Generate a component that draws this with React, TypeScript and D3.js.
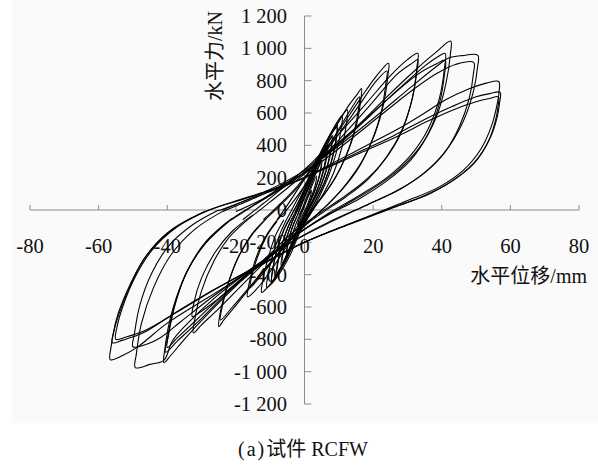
import * as d3 from 'd3';

// axis ticks
const xTicks = [-80, -60, -40, -20, 0, 20, 40, 60, 80];
const yTicks = [-1200, -1000, -800, -600, -400, -200, 0, 200, 400, 600, 800, 1000, 1200];
const yTickLabels = ['-1 200', '-1 000', '-800', '-600', '-400', '-200', '0', '200', '400', '600', '800', '1 000', '1 200'];

// hysteresis cycles, [displacement mm, force kN]
const c01 = [[-1.5, -30], [-0.5, 10], [0.8, 70], [2, 120], [1.8, 90], [0.8, 30], [-0.3, -20], [-1.2, -60], [-2, -100], [-1.8, -70], [-1, -30]];
const c02 = [[-1, -30], [0.3, 40], [2, 140], [3.5, 210], [3.2, 160], [2, 80], [0.5, 0], [-1, -70], [-2.5, -140], [-3.5, -180], [-3.2, -130], [-2, -60], [-0.8, 0]];
const c03 = [[-0.8, 0], [0.8, 90], [2.8, 200], [4.8, 290], [4.5, 230], [3.2, 130], [1.5, 40], [-0.5, -50], [-2.5, -150], [-4.2, -230], [-5, -260], [-4.6, -190], [-3.4, -100], [-2, -30]];
const c03b = [[-2, -30], [-0.6, 50], [1.4, 150], [3.5, 240], [5, 310], [4.7, 240], [3.5, 150], [1.8, 60], [-0.2, -40], [-2.2, -140], [-4, -220], [-5.2, -270], [-4.8, -200], [-3.6, -110], [-2.2, -40]];
const c04 = [[-2, -30], [-0.5, 50], [1.5, 150], [3.5, 260], [5.5, 350], [6.5, 385], [6.2, 320], [5, 210], [3.2, 100], [1.2, 10], [-1, -80], [-3, -180], [-5, -270], [-6.5, -330], [-6.2, -260], [-5, -160], [-3.5, -70], [-2, 0]];
const c04b = [[-2.2, -10], [-0.8, 70], [1.2, 170], [3.2, 270], [5.2, 350], [6.8, 400], [6.5, 330], [5.3, 220], [3.5, 110], [1.5, 20], [-0.8, -70], [-2.8, -170], [-4.8, -260], [-6.8, -345], [-6.4, -270], [-5.2, -170], [-3.7, -80], [-2.2, -10]];
const c05 = [[-2, 0], [0, 90], [2, 190], [4.5, 320], [7, 420], [8, 455], [7.7, 380], [6.5, 260], [4.5, 140], [2.5, 50], [0, -50], [-2.5, -160], [-5, -280], [-7, -360], [-8, -390], [-7.6, -310], [-6.2, -190], [-4.5, -90], [-2.8, -20]];
const c05b = [[-2.8, -20], [-1, 70], [1.5, 180], [4, 300], [6.5, 400], [8.2, 460], [7.9, 390], [6.7, 270], [4.8, 150], [2.7, 60], [0.2, -40], [-2.3, -150], [-4.8, -270], [-6.8, -350], [-8.2, -400], [-7.8, -320], [-6.4, -200], [-4.7, -100], [-3, -30]];
const c06 = [[-2.8, -20], [-1, 60], [1.5, 180], [4, 310], [7, 440], [9, 510], [9.6, 525], [9.3, 440], [8, 310], [6, 180], [3.5, 70], [1, -30], [-2, -150], [-5, -290], [-8, -400], [-9.5, -440], [-9.2, -360], [-7.8, -230], [-6, -120], [-4, -40]];
const c06b = [[-4, -40], [-2, 40], [0.8, 170], [3.5, 300], [6.5, 430], [8.8, 500], [9.4, 510], [9.1, 430], [7.8, 300], [5.8, 170], [3.3, 60], [0.8, -40], [-2.2, -160], [-5.2, -300], [-8.2, -410], [-9.6, -450], [-9.3, -370], [-7.9, -240], [-6.1, -130], [-4.2, -50]];
const c07 = [[-4, -40], [-2, 40], [1, 170], [4, 320], [7.5, 470], [10, 560], [11, 585], [10.6, 490], [9.2, 350], [7, 210], [4.5, 90], [2, -10], [-1, -120], [-4, -270], [-7.5, -400], [-10, -465], [-11, -480], [-10.6, -400], [-9, -260], [-7, -140], [-5, -50]];
const c08 = [[-5, -50], [-2.5, 50], [1, 190], [5, 360], [9, 520], [11.5, 600], [12.5, 620], [12.2, 530], [10.8, 380], [8.5, 230], [5.5, 100], [2.5, 0], [-1, -120], [-5, -290], [-9, -430], [-11.5, -495], [-12.5, -510], [-12.1, -430], [-10.5, -290], [-8.5, -160], [-6, -60]];
const c09 = [[-8, -60], [-5, 30], [-1, 160], [4, 330], [9, 510], [13, 650], [15.5, 720], [16.6, 752], [16.4, 680], [15.2, 530], [13, 380], [10, 240], [6.5, 120], [3, 20], [-1, -90], [-5, -220], [-10, -380], [-14, -490], [-16.6, -537], [-16.2, -460], [-14.5, -320], [-12, -190], [-9, -90], [-6, -20]];
const c10 = [[-6, -20], [-3, 60], [1, 180], [5.5, 340], [10, 500], [14, 640], [16, 700], [15.7, 620], [14.3, 470], [12, 330], [9, 200], [5.5, 90], [2, 0], [-2, -100], [-6, -220], [-10.5, -350], [-14, -440], [-15.8, -480], [-15.4, -410], [-13.5, -280], [-11, -160], [-8, -70]];
const c11 = [[-12, -60], [-7, 40], [-2, 150], [4, 310], [10, 490], [16, 680], [21, 830], [24.5, 907], [24.3, 830], [23, 650], [20.5, 470], [17, 310], [12.5, 170], [8, 60], [3, -40], [-2, -140], [-8, -280], [-14, -430], [-20, -590], [-23.5, -680], [-25, -722], [-24.6, -640], [-22.5, -470], [-19.5, -300], [-15.5, -160], [-11, -50]];
const c12 = [[-11, -50], [-7, 30], [-2, 140], [4, 300], [10, 470], [16, 650], [21, 800], [24, 860], [23.7, 780], [22.3, 600], [19.5, 420], [16, 270], [11.5, 140], [7, 40], [2, -60], [-3, -160], [-9, -300], [-15, -450], [-21, -600], [-24.5, -680], [-24, -600], [-22, -440], [-19, -280], [-15, -140], [-10, -30]];
const c13 = [[-18, -60], [-12, 40], [-5, 160], [2, 290], [10, 470], [18, 660], [25, 830], [30, 930], [33, 969], [32.8, 890], [31.5, 700], [28.5, 500], [24, 330], [18.5, 190], [12, 80], [5, -20], [-2, -130], [-10, -290], [-18, -460], [-25, -610], [-30, -710], [-32.4, -760], [-32, -680], [-30, -500], [-26.5, -320], [-22, -170], [-16, -50]];
const c14 = [[-16, -50], [-10, 50], [-3, 170], [4, 300], [12, 480], [20, 670], [27, 840], [31.5, 910], [33, 930], [32.7, 850], [31.2, 670], [28, 470], [23, 300], [17, 170], [10, 60], [3, -40], [-4, -150], [-12, -310], [-20, -460], [-27, -580], [-31, -640], [-32.7, -660], [-32.3, -580], [-30, -420], [-26, -260], [-21, -130], [-15, -30]];
const c15 = [[-20, -10], [-12, 70], [-4, 170], [5, 320], [15, 510], [24, 700], [32, 860], [38, 970], [42.6, 1045], [42.5, 960], [41.2, 780], [38.5, 580], [34, 400], [27.5, 250], [19, 120], [10, 10], [0, -120], [-10, -290], [-20, -470], [-28, -640], [-35, -800], [-39, -900], [-41, -945], [-40.7, -860], [-39, -660], [-35.5, -440], [-30.5, -250], [-24, -100], [-18, -10]];
const c16 = [[-18, -10], [-10, 90], [-2, 200], [7, 350], [17, 540], [27, 740], [35, 890], [39, 950], [41, 969], [40.8, 880], [39.3, 690], [36, 500], [31, 340], [24, 200], [16, 90], [7, -20], [-2, -150], [-12, -320], [-22, -500], [-30, -670], [-37, -810], [-40.5, -880], [-40, -800], [-38, -600], [-34.5, -390], [-29, -210], [-22, -70]];
const c17 = [[-22, -70], [-14, 40], [-5, 170], [5, 330], [15, 510], [25, 700], [33, 840], [38.5, 905], [41, 926], [40.8, 840], [39.2, 650], [36, 470], [31, 310], [24, 180], [16, 70], [7, -30], [-3, -160], [-13, -330], [-23, -510], [-31, -670], [-37, -790], [-40, -850], [-39.5, -760], [-37.5, -570], [-34, -370], [-28.5, -190], [-21, -50]];
const c18 = [[-24, 0], [-16, 70], [-7, 160], [2, 270], [12, 430], [22, 600], [31, 760], [38, 880], [42, 940], [46, 955], [50.5, 957], [50.4, 880], [49.3, 740], [46.5, 560], [42, 390], [36, 250], [28, 130], [18, 30], [8, -70], [-3, -190], [-15, -360], [-26, -540], [-34, -700], [-38.5, -810], [-41, -930], [-45, -955], [-49.3, -975], [-49, -890], [-47.5, -700], [-44, -480], [-39, -280], [-32, -120], [-24, -10]];
const c19 = [[-24, -10], [-16, 60], [-7, 150], [3, 270], [13, 430], [23, 600], [32, 750], [39, 850], [44, 900], [49.3, 913], [49.2, 840], [48, 690], [45.2, 520], [41, 360], [35, 230], [27, 120], [17.5, 25], [7, -75], [-4, -200], [-16, -370], [-27, -540], [-36, -690], [-42, -790], [-46, -830], [-50, -846], [-49.6, -770], [-48, -590], [-44.5, -390], [-39.5, -220], [-32.5, -90], [-25, 0]];
const c20 = [[-25, -5], [-17, 60], [-8, 130], [0, 200], [10, 310], [20, 420], [28, 510], [35, 600], [41, 680], [48, 750], [53, 785], [56.6, 795], [56.7, 730], [56, 640], [54.5, 520], [51.5, 380], [46.5, 250], [39, 140], [29, 50], [15, -70], [0, -200], [-15, -370], [-28, -540], [-40, -700], [-48.8, -850], [-53, -900], [-56.6, -926], [-56.4, -850], [-55.2, -720], [-51.7, -512], [-47, -310], [-40, -142], [-30, -19], [-22, 40]];
const c21 = [[-22, 40], [-13, 100], [-4, 165], [6, 260], [16, 360], [26, 460], [35, 560], [43, 640], [50, 700], [54, 720], [57, 728], [56.9, 670], [56.1, 570], [54.2, 450], [50.5, 320], [44.5, 200], [36.5, 100], [26, 15], [13, -90], [0, -200], [-14, -350], [-27, -500], [-38, -640], [-47, -760], [-53, -805], [-56, -821], [-55.7, -760], [-54.3, -640], [-50.8, -460], [-46, -280], [-39, -130], [-30, -20], [-21, 50]];
const c22 = [[-21, 50], [-12, 110], [-3, 175], [7, 265], [17, 360], [27, 455], [36, 550], [44, 625], [50, 670], [54, 690], [56.5, 700], [56.4, 640], [55.5, 540], [53.5, 420], [49.5, 290], [43, 180], [35, 90], [25, 10], [12, -95], [0, -200], [-13, -340], [-26, -490], [-37, -630], [-46, -740], [-52, -785], [-55, -800], [-54.7, -730], [-53, -600], [-49.5, -420], [-44.5, -250], [-37.5, -110], [-29, -10]];

const cycles = [c01, c02, c03, c03b, c04, c04b, c05, c05b, c06, c06b, c07, c08, c09, c10, c11, c12, c13, c14, c15, c16, c17, c18, c19, c20, c21, c22];

const W = 598;
const H = 467;
const serif = '"Liberation Serif", "Times New Roman", serif';
const cjk = '"Noto Sans CJK SC", sans-serif';

export default function App() {
  const x = d3.scaleLinear().domain([-80, 80]).range([30, 579]);
  const y = d3.scaleLinear().domain([-1200, 1200]).range([404, 16]);
  const line = d3.line<number[]>()
    .x(d => x(d[0]))
    .y(d => y(d[1]))
    .curve(d3.curveCatmullRom.alpha(0.5));

  const x0 = x(0);
  const y0 = y(0);

  return (
    <svg width={W} height={H} style={{ position: 'absolute', left: 0, top: 0, background: '#fff' }}>
      <rect x={12} y={0} width={W - 12} height={423} fill="#fafafa" />

      {/* axes */}
      <line x1={x(-80)} x2={x(80)} y1={y0} y2={y0} stroke="#8c8c8c" strokeWidth={1} />
      <line x1={x0} x2={x0} y1={y(1200)} y2={y(-1200)} stroke="#8c8c8c" strokeWidth={1} />
      {xTicks.map(t => (
        <line key={'xt' + t} x1={x(t)} x2={x(t)} y1={y0} y2={y0 - 5} stroke="#8c8c8c" />
      ))}
      {yTicks.map(t => (
        <line key={'yt' + t} x1={x0} x2={x0 + 7} y1={y(t)} y2={y(t)} stroke="#8c8c8c" />
      ))}

      {/* tick labels */}
      {yTicks.map((t, i) => (
        <text key={'yl' + t} x={287} y={y(t) + 7} textAnchor="end" fontFamily={serif} fontSize={20.5} fill="#111">
          {yTickLabels[i]}
        </text>
      ))}
      {xTicks.map(t => (
        <text key={'xl' + t} x={x(t)} y={253} textAnchor="middle" fontFamily={serif} fontSize={20.5} fill="#111">
          {t}
        </text>
      ))}

      {/* curves */}
      <g fill="none" stroke="#000" strokeWidth={1.1} strokeLinejoin="round">
        {cycles.map((c, i) => (
          <path key={'c' + i} d={line(c) || ''} />
        ))}
      </g>

      {/* axis titles */}
      <text transform="translate(222,56) rotate(-90)" textAnchor="middle" fontSize={20} fill="#111">
        <tspan fontFamily={cjk}>水平力</tspan>
        <tspan fontFamily={serif}>/kN</tspan>
      </text>
      <text x={587} y={283} textAnchor="end" fontSize={20} fill="#111">
        <tspan fontFamily={cjk}>水平位移</tspan>
        <tspan fontFamily={serif}>/mm</tspan>
      </text>

      {/* caption */}
      <text x={303} y={456} textAnchor="middle" fontSize={20} fill="#111">
        <tspan fontFamily={serif} letterSpacing={2}>(a)</tspan>
        <tspan fontFamily={cjk}>试件</tspan>
        <tspan fontFamily={serif}> RCFW</tspan>
      </text>
    </svg>
  );
}
